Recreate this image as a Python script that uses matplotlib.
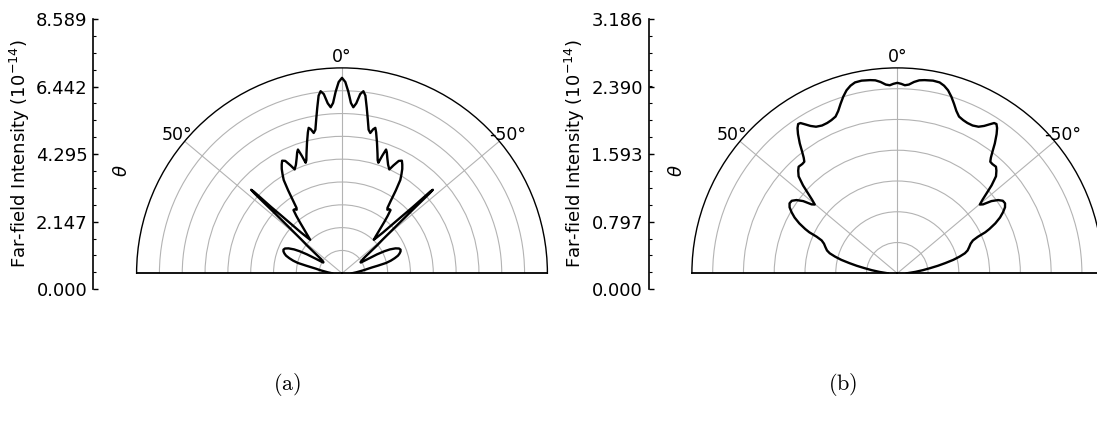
import numpy as np
import matplotlib
matplotlib.use("Agg")
import matplotlib.pyplot as plt
from matplotlib.ticker import AutoMinorLocator

# ---------------- data ----------------
# panel (a): far-field intensity vs angle (degrees), units of 1e-14
theta_a = [-90, -88, -86, -84, -82, -80, -79, -78, -76.8, -75.5, -74, -72.5, -71, -69.5,
           -68, -66.5, -65, -63.5, -62.5, -61.6, -61, -60.3, -59, -57.5, -55.9, -54.5, -53,
           -51.5, -50.3, -49.6, -48.96, -48.5, -48.06, -47.8, -47.6, -47.4, -47.2, -46.9,
           -46.5, -46.1, -45.6, -45.1, -44.3, -43.5, -42.5, -41, -39.5, -38.5, -37.5, -36.5,
           -35.5, -34.8, -34, -33, -32, -31, -30, -29, -28, -26.8, -25.5, -24.5, -23, -21.5,
           -20.3, -19.6, -18.9, -18.2, -17.5, -16.5, -15, -13.6, -12.9, -12.2, -11.4, -10.5,
           -9.5, -8.5, -7.5, -6.7, -5.8, -4.8, -3.9, -3, -2, -1, 0,
           1, 2, 3, 3.9, 4.8, 5.8, 6.7, 7.5, 8.5, 9.5, 10.5, 11.4, 12.2, 12.9, 13.6, 15,
           16.5, 17.5, 18.2, 18.9, 19.6, 20.3, 21.5, 23, 24.5, 25.5, 26.8, 28, 29, 30, 31,
           32, 33, 34, 34.8, 35.5, 36.5, 37.5, 38.5, 39.5, 41, 42.5, 43.5, 44.3, 45.1, 45.6,
           46.1, 46.5, 46.9, 47.2, 47.4, 47.6, 47.8, 48.06, 48.5, 48.96, 49.6, 50.3, 51.5, 53,
           54.5, 55.9, 57.5, 59, 60.3, 61, 61.6, 62.5, 63.5, 65, 66.5, 68, 69.5, 71, 72.5,
           74, 75.5, 76.8, 78, 79, 80, 82, 84, 86, 88, 90]
r_a = [0.31, 0.37, 0.45, 0.55, 0.68, 0.83, 0.95, 1.15, 1.42, 1.58, 1.72, 1.84, 1.91, 1.96,
       1.98, 1.95, 1.85, 1.68, 1.50, 1.25, 0.95, 0.68, 0.68, 0.73, 0.79, 0.90, 1.10,
       1.40, 1.66, 1.92, 2.25, 2.60, 2.98, 3.40, 3.72, 3.87, 3.78, 3.04,
       2.68, 2.36, 2.05, 1.80, 1.60, 1.45, 1.55, 1.78, 2.08, 2.30, 2.50, 2.50,
       2.45, 2.50, 2.72, 3.10, 3.45, 3.62, 3.78, 3.90, 4.00, 3.95, 3.75, 3.58, 3.70, 3.88,
       4.05, 4.12, 3.90, 3.65, 3.72, 3.92, 4.24, 4.55, 4.68, 4.62, 4.49, 4.58,
       4.90, 5.25, 5.62, 5.75, 5.65, 5.35, 5.22, 5.35, 5.70, 6.00, 6.13,
       6.00, 5.70, 5.35, 5.22, 5.35, 5.65, 5.75, 5.62, 5.25, 4.90, 4.58, 4.49, 4.62, 4.68, 4.55, 4.24,
       3.92, 3.72, 3.65, 3.90, 4.12, 4.05, 3.88, 3.70, 3.58, 3.75, 3.95, 4.00, 3.90, 3.78, 3.62,
       3.45, 3.10, 2.72, 2.50, 2.45, 2.50, 2.50, 2.30, 2.08, 1.78, 1.55, 1.45, 1.60, 1.80, 2.05,
       2.36, 2.68, 3.04, 3.78, 3.87, 3.72, 3.40, 2.98, 2.60, 2.25, 1.92, 1.66, 1.40, 1.10,
       0.90, 0.79, 0.73, 0.68, 0.68, 0.95, 1.25, 1.50, 1.68, 1.85, 1.95, 1.98, 1.96, 1.91, 1.84,
       1.72, 1.58, 1.42, 1.15, 0.95, 0.83, 0.68, 0.55, 0.45, 0.37, 0.31]

# panel (b)
theta_b = [-90, -88, -85.5, -83, -81, -79.5, -78, -76.5, -75, -73.5, -72, -70, -68, -66.5,
           -65.6, -65, -64.3, -63, -61.5, -60, -58.5, -57, -55.5, -54, -52.5, -51.2, -50.2,
           -49.2, -48.2, -47, -45.5, -44, -42.8, -41, -39.8, -39, -38, -36.9, -35.5, -34.5,
           -33.6, -32.8, -31.8, -30.5, -29, -27, -25, -23.3, -21.5, -20, -18.5, -17, -15.5,
           -14, -12.5, -10.5, -8, -6.5, -5, -3.5, -2.3, -1.2, 0,
           1.2, 2.3, 3.5, 5, 6.5, 8, 10.5, 12.5, 14, 15.5, 17, 18.5, 20, 21.5, 23.3, 25, 27,
           29, 30.5, 31.8, 32.8, 33.6, 34.5, 35.5, 36.9, 38, 39, 39.8, 41, 42.8, 44, 45.5, 47,
           48.2, 49.2, 50.2, 51.2, 52.5, 54, 55.5, 57, 58.5, 60, 61.5, 63, 64.3, 65, 65.6,
           66.5, 68, 70, 72, 73.5, 75, 76.5, 78, 79.5, 81, 83, 85.5, 88, 90]
r_b = [0.11, 0.14, 0.21, 0.30, 0.39, 0.48, 0.57, 0.67, 0.75, 0.82, 0.86, 0.89, 0.92, 0.96,
       1.03, 1.13, 1.19, 1.28, 1.36, 1.42, 1.47, 1.495, 1.49, 1.45, 1.38, 1.28, 1.25,
       1.31, 1.39, 1.50, 1.61, 1.66, 1.69, 1.685, 1.69, 1.73, 1.80, 1.89, 1.99, 2.05,
       2.085, 2.08, 2.04, 1.99, 1.95, 1.93, 1.93, 1.94, 1.96, 2.01, 2.08, 2.15, 2.21,
       2.25, 2.275, 2.28, 2.27, 2.26, 2.235, 2.20, 2.19, 2.205, 2.216,
       2.205, 2.19, 2.20, 2.235, 2.26, 2.27, 2.28, 2.275, 2.25, 2.21, 2.15, 2.08, 2.01, 1.96, 1.94, 1.93, 1.93,
       1.95, 1.99, 2.04, 2.08, 2.085, 2.05, 1.99, 1.89, 1.80, 1.73, 1.69, 1.685, 1.69, 1.66, 1.61, 1.50,
       1.39, 1.31, 1.25, 1.28, 1.38, 1.45, 1.49, 1.495, 1.47, 1.42, 1.36, 1.28, 1.19, 1.13, 1.03,
       0.96, 0.92, 0.89, 0.86, 0.82, 0.75, 0.67, 0.57, 0.48, 0.39, 0.30, 0.21, 0.14, 0.11]

rmax_a, rmax_b = 6.442, 2.390
rings_a = [0.716, 1.432, 2.147, 2.863, 3.579, 4.295, 5.010, 5.726]
rings_b = [0.358, 0.716, 1.074, 1.432, 1.790, 2.148]
yticks_a = [0.000, 2.147, 4.295, 6.442, 8.589]
yticks_b = [0.000, 0.797, 1.593, 2.390, 3.186]
theta_ticks = [-50, 0, 50]
theta_labels = ["-50°", "0°", "50°"]
captions = ["(a)", "(b)"]

# ---------------- layout ----------------
W, H = 1097, 425
fig = plt.figure(figsize=(W / 100, H / 100), dpi=100)


def rect(x0, y0, w, h):
    """pixel box (top-left origin) -> figure fraction"""
    return [x0 / W, 1 - (y0 + h) / H, w / W, h / H]


def polar_panel(cx, cy, R, theta, r, rmax, rings):
    # the half-disk sits centred in a square box of side 2R
    ax = fig.add_axes(rect(cx - R, cy - 1.5 * R, 2 * R, 2 * R), projection="polar")
    ax.set_facecolor("none")
    ax.set_theta_zero_location("N")
    ax.set_thetamin(-90)
    ax.set_thetamax(90)
    ax.set_rlim(0, rmax)
    ax.set_rticks(rings)
    ax.set_yticklabels([])
    ax.set_thetagrids(theta_ticks, labels=theta_labels, fontsize=12.5)
    ax.tick_params(axis="x", pad=-3)
    ax.grid(True, color="#b3b3b3", lw=0.8)
    ax.spines["polar"].set_linewidth(1.0)
    ax.spines["start"].set_linewidth(1.3)
    ax.spines["end"].set_linewidth(1.3)
    ax.plot(np.deg2rad(theta), r, color="black", lw=1.7)
    return ax


def value_axis(x, ticks):
    ay = fig.add_axes(rect(x, 19, 2, 270.2))
    ay.set_facecolor("none")
    for s in ("top", "right", "bottom"):
        ay.spines[s].set_visible(False)
    ay.spines["left"].set_linewidth(1.2)
    ay.set_xticks([])
    ay.set_ylim(ticks[0], ticks[-1])
    ay.set_yticks(ticks)
    ay.set_yticklabels([f"{t:.3f}" for t in ticks], fontsize=13)
    ay.yaxis.set_minor_locator(AutoMinorLocator(4))
    ay.tick_params(axis="y", which="major", direction="in", length=3.5, width=1.0, pad=4)
    ay.tick_params(axis="y", which="minor", direction="in", length=2, width=0.8)
    return ay


panels = [
    (342.0, theta_a, r_a, rmax_a, rings_a, yticks_a),
    (897.3, theta_b, r_b, rmax_b, rings_b, yticks_b),
]
for k, (cx, th, rr, rm, rg, yt) in enumerate(panels):
    off = cx - 342.0
    value_axis(93.3 + off, yt)
    polar_panel(cx, 273.3, 205.4, th, rr, rm, rg)
    fig.text((20 + off) / W, 1 - 154 / H, r"Far-field Intensity ($10^{-14}$)",
             rotation=90, ha="center", va="center", fontsize=13)
    fig.text((122 + off) / W, 1 - 171 / H, r"$\theta$",
             rotation=90, ha="center", va="center", fontsize=13)
    fig.text((287 + off) / W, 1 - 385 / H, r"$\mathrm{" + captions[k] + "}$",
             ha="center", va="center", fontsize=16, math_fontfamily="cm")

fig.savefig("out.png", dpi=100)
